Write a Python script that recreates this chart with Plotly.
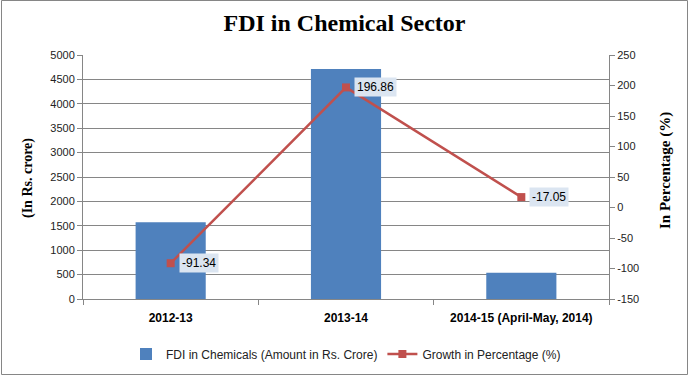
import plotly.graph_objects as go

categories = ["2012-13", "2013-14", "2014-15 (April-May, 2014)"]
fdi_amount = [1572, 4713, 539]
growth_pct = [-91.34, 196.86, 17.05]
growth_labels = ["-91.34", "196.86", "-17.05"]
left_ticks = list(range(0, 5001, 500))
right_ticks = list(range(-150, 251, 50))

W, H = 689, 377
ML, MR, MT, MB = 83, 80, 55, 78
PW, PH = W - ML - MR, H - MT - MB


def px_x(x):
    return (x - ML) / PW


def px_y(y):
    return (H - MB - y) / PH


fig = go.Figure()
fig.add_trace(go.Bar(
    x=categories, y=fdi_amount, name="FDI in Chemicals (Amount in Rs. Crore)",
    marker=dict(color="#4F81BD", line=dict(width=0)), width=0.4, yaxis="y",
))
fig.add_trace(go.Scatter(
    x=categories, y=growth_pct, name="Growth in Percentage (%)", mode="lines+markers",
    line=dict(color="#C0504D", width=2.5),
    marker=dict(symbol="square", size=8, color="#C0504D"), yaxis="y2",
))

for c, v, t in zip(categories, growth_pct, growth_labels):
    fig.add_annotation(x=c, y=v, xref="x", yref="y2", text=t, showarrow=False,
                       xanchor="left", yanchor="middle", xshift=8,
                       bgcolor="#dbe5f1", borderpad=2,
                       font=dict(family="Liberation Sans, Arial", size=12, color="#000"))

# axis titles
fig.add_annotation(x=px_x(28), y=px_y(178), xref="paper", yref="paper", text="<b>(In Rs. crore)</b>",
                   textangle=-90, showarrow=False, xanchor="center", yanchor="middle",
                   font=dict(family="Liberation Serif, Times New Roman", size=14, color="#000"))
fig.add_annotation(x=px_x(665), y=px_y(171), xref="paper", yref="paper", text="<b>In Percentage (%)</b>",
                   textangle=-90, showarrow=False, xanchor="center", yanchor="middle",
                   font=dict(family="Liberation Serif, Times New Roman", size=15, color="#000"))

fig.add_shape(type="rect", xref="paper", yref="paper",
              x0=px_x(1.5), x1=px_x(W - 1.5), y0=px_y(H - 2.5), y1=px_y(0.5),
              line=dict(color="#868686", width=1))

tickfont = dict(family="Liberation Sans, Arial", size=11, color="#222")
fig.update_layout(
    width=W, height=H, margin=dict(l=ML, r=MR, t=MT, b=MB, autoexpand=False),
    paper_bgcolor="white", plot_bgcolor="white",
    title=dict(text="<b>FDI in Chemical Sector</b>", x=0.5, xanchor="center", y=0.94, yanchor="middle",
               font=dict(family="Liberation Serif, Times New Roman", size=24, color="#000")),
    showlegend=True,
    legend=dict(orientation="h", x=0.5, xanchor="center", y=px_y(354), yanchor="middle",
                font=dict(family="Liberation Sans, Arial", size=12, color="#222"),
                itemwidth=30, tracegroupgap=0),
    xaxis=dict(type="category", showline=True, linecolor="#868686", ticks="outside",
               tickson="boundaries", ticklen=5, tickcolor="#868686", automargin=False,
               ticklabelstandoff=8,
               tickfont=dict(family="Liberation Sans, Arial", size=12, color="#000", weight="bold"),
               showgrid=False),
    yaxis=dict(range=[0, 5000], tickvals=left_ticks, ticktext=[str(v) for v in left_ticks],
               showline=True, linecolor="#868686", automargin=False,
               ticks="outside", ticklen=5, tickcolor="#868686", tickfont=tickfont,
               gridcolor="#868686", gridwidth=1, zeroline=False),
    yaxis2=dict(range=[-150, 250], tickvals=right_ticks, ticktext=[str(v) for v in right_ticks],
                overlaying="y", side="right", showline=True, automargin=False,
                linecolor="#868686", ticks="outside", ticklen=5, tickcolor="#868686",
                tickfont=tickfont, showgrid=False, zeroline=False),
    bargap=0.6,
)

fig.write_html("out.html", config={"displayModeBar": False},
               post_script="document.body.style.margin='0';document.body.style.overflow='hidden';")
